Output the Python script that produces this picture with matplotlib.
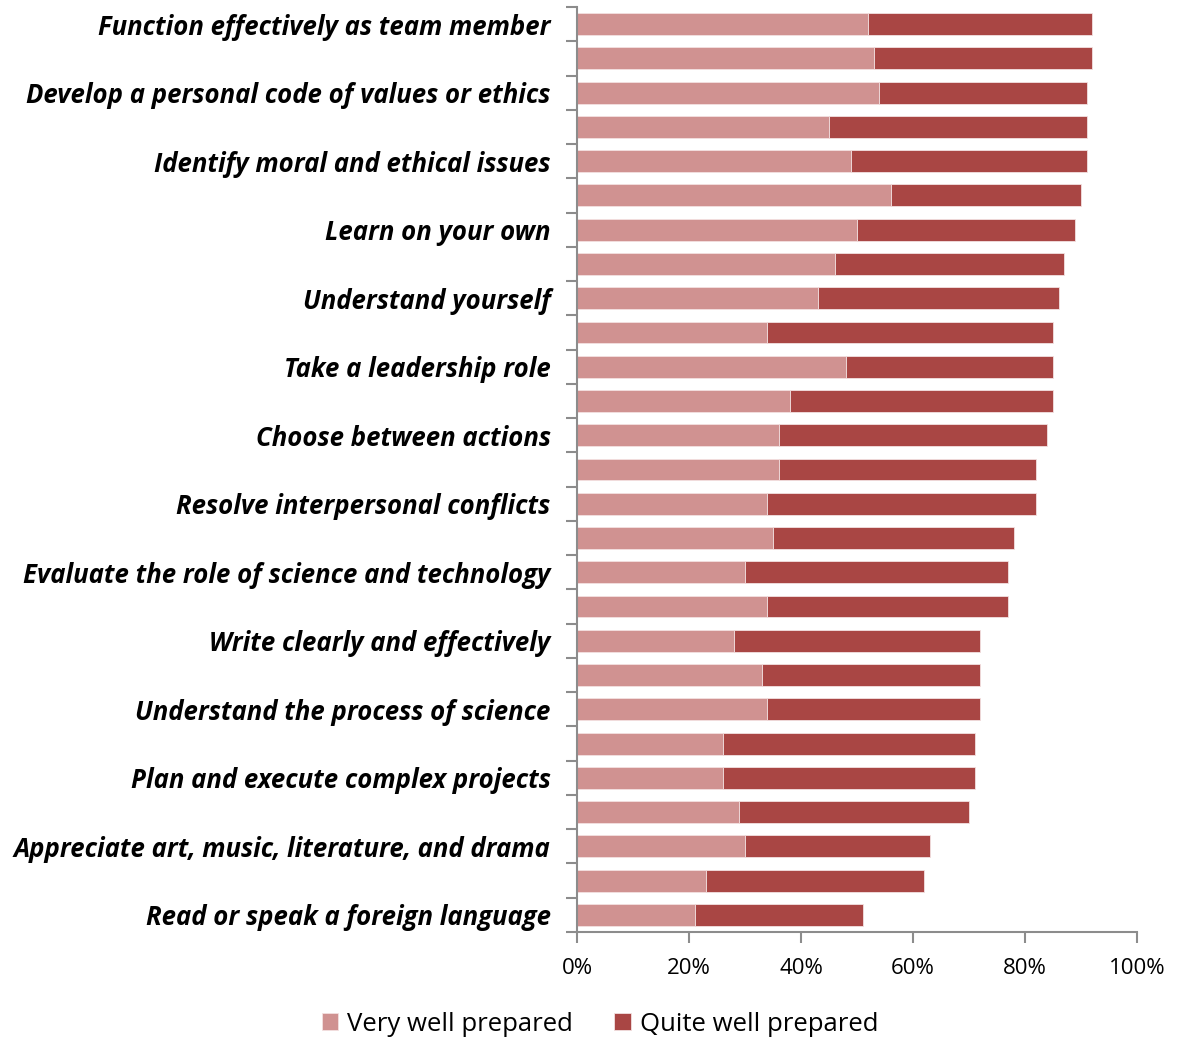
import numpy as np
import matplotlib.pyplot as plt
from matplotlib.ticker import PercentFormatter

labels = ['Function effectively as team member', '',
          'Develop a personal code of values or ethics', '',
          'Identify moral and ethical issues', '',
          'Learn on your own', '',
          'Understand yourself', '',
          'Take a leadership role', '',
          'Choose between actions', '',
          'Resolve interpersonal conflicts', '',
          'Evaluate the role of science and technology', '',
          'Write clearly and effectively', '',
          'Understand the process of science', '',
          'Plan and execute complex projects', '',
          'Appreciate art, music, literature, and drama', '',
          'Read or speak a foreign language']
very_well = [52, 53, 54, 45, 49, 56, 50, 46, 43, 34, 48, 38, 36, 36, 34, 35,
             30, 34, 28, 33, 34, 26, 26, 29, 30, 23, 21]
quite_well = [40, 39, 37, 46, 42, 34, 39, 41, 43, 51, 37, 47, 48, 46, 48, 43,
              47, 43, 44, 39, 38, 45, 45, 41, 33, 39, 30]

c_very = '#d09291'
c_quite = '#a94644'
fam = ['Open Sans', 'DejaVu Sans']

fig = plt.figure(figsize=(11.81, 10.37), dpi=100)
ax = fig.add_axes([0.4886, 0.1013, 0.4742, 0.8919])

n = len(labels)
y = np.arange(n)
h = 0.64
ax.barh(y, very_well, height=h, color=c_very, edgecolor='#f3e1e1', linewidth=0.6,
        label='Very well prepared')
ax.barh(y, quite_well, left=very_well, height=h, color=c_quite, edgecolor='#f3e1e1',
        linewidth=0.6, label='Quite well prepared')

ax.set_ylim(n - 0.5, -0.5)
ax.set_xlim(0, 100)
ax.xaxis.set_major_formatter(PercentFormatter(decimals=0))
ax.set_xticks(np.arange(0, 101, 20))

# labels centred on bars, ticks on category boundaries
ax.set_yticks(y)
ax.set_yticklabels(labels, fontsize=18.5, fontweight='bold', fontstyle='italic', family=fam)
ax.tick_params(axis='y', which='major', length=0, pad=19)
ax.set_yticks(np.arange(-0.5, n, 1), minor=True)
ax.tick_params(axis='y', which='minor', length=8, width=1.5, color='#8c8c8c')
ax.tick_params(axis='x', length=8, width=1.5, color='#8c8c8c', labelsize=16, pad=11)
for t in ax.get_xticklabels():
    t.set_family(fam)

for s in ['top', 'right']:
    ax.spines[s].set_visible(False)
for s in ['left', 'bottom']:
    ax.spines[s].set_color('#8c8c8c')
    ax.spines[s].set_linewidth(1.5)

fig.legend(loc='lower center', bbox_to_anchor=(0.508, -0.022), ncol=2, frameon=False,
           prop={'family': fam, 'size': 18.5},
           handlelength=0.65, handleheight=0.65, handletextpad=0.35, columnspacing=1.6)

fig.savefig('out.png', dpi=100)
